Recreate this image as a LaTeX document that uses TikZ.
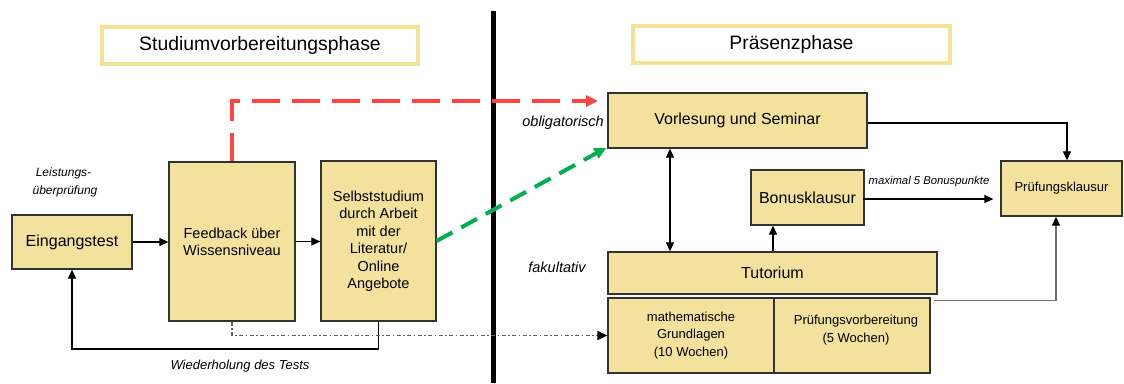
\documentclass[tikz,border=0pt]{standalone}
\usepackage{fontspec}
\setmainfont{Liberation Sans}
\usetikzlibrary{arrows.meta,calc}

\definecolor{boxfill}{RGB}{243,225,158}
\definecolor{boxline}{RGB}{51,51,51}
\definecolor{titleline}{RGB}{246,226,150}
\definecolor{redpath}{RGB}{255,68,68}
\definecolor{greenpath}{RGB}{0,176,80}
\definecolor{greypath}{RGB}{110,110,110}
\definecolor{dashgrey}{RGB}{95,95,95}

\tikzset{
  box/.style={draw=boxline, line width=1.3pt, fill=boxfill, rectangle, inner sep=2pt, align=center},
  titlebox/.style={draw=titleline, line width=3.6pt, fill=white, rectangle, inner sep=0pt, font=\fontsize{19.4}{22}\selectfont},
  note/.style={font=\itshape\fontsize{14.5}{17}\selectfont, inner sep=0pt},
  arr/.style={draw=black, line width=1.2pt, -{Triangle[length=9pt,width=8pt,color=black]}},
  darr/.style={draw=black, line width=1.2pt, {Triangle[length=9pt,width=8pt]}-{Triangle[length=9pt,width=8pt]}},
  redflow/.style={draw=redpath, line width=4pt, dash pattern=on 28pt off 12pt, -{Triangle[length=12pt,width=11pt,fill=redpath]}},
  greenflow/.style={draw=greenpath, line width=4pt, dash pattern=on 18pt off 10pt, -{Triangle[length=12pt,width=11pt,fill=greenpath]}},
  dashdotflow/.style={draw=dashgrey, line width=1.6pt, dash pattern=on 4pt off 2.5pt on 1.5pt off 2.5pt, -{Triangle[length=10pt,width=9pt,color=black]}},
}

\begin{document}
\begin{tikzpicture}[x=1pt,y=-1pt]
  \useasboundingbox (0,0) rectangle (1124,383);

  % phase divider
  \coordinate (divtop) at (493,11);
  \coordinate (divbot) at (493,383);
  \draw[line width=5pt] (divtop) -- (divbot);

  % phase titles
  \node[titlebox, minimum width=316pt, minimum height=37pt] (t1) at (260,45.5) {Studiumvorbereitungsphase};
  \node[titlebox, minimum width=317pt, minimum height=37pt] (t2) at (791.5,44.5) {Präsenzphase};

  % preparation phase
  \node[box, minimum width=120pt, minimum height=54pt, font=\fontsize{16}{19}\selectfont] (ein) at (72,242) {Eingangstest};
  \node[box, minimum width=126pt, minimum height=159pt, font=\fontsize{14.5}{16.7}\selectfont] (fb) at (232,241.5) {Feedback über\\Wissensniveau};
  \node[box, minimum width=115pt, minimum height=160pt, font=\fontsize{14.5}{17.5}\selectfont] (selbst) at (378.5,241) {Selbststudium\\durch Arbeit\\mit der\\Literatur/\\Online\\Angebote};

  \node[note, font=\itshape\fontsize{12}{14}\selectfont] (lp1) at (63.5,173) {Leistungs-};
  \node[note, font=\itshape\fontsize{12}{14}\selectfont] (lp2) at (65,191) {überprüfung};
  \node[note, font=\itshape\fontsize{13}{15}\selectfont] (wdh) at (240,366) {Wiederholung des Tests};

  % presence phase
  \node[box, minimum width=259pt, minimum height=55pt, font=\fontsize{16}{19}\selectfont] (vs) at (737.5,120.5) {Vorlesung und Seminar};
  \node[box, minimum width=113pt, minimum height=55pt, font=\fontsize{16}{19}\selectfont] (bonus) at (807.5,197.5) {Bonusklausur};
  \node[box, minimum width=329pt, minimum height=42pt, font=\fontsize{16}{19}\selectfont] (tut) at (772.5,273) {Tutorium};
  \node[box, minimum width=166pt, minimum height=75pt, font=\fontsize{13}{17.7}\selectfont] (math) at (691,335.5) {mathematische\\Grundlagen\\(10 Wochen)};
  \node[box, minimum width=156pt, minimum height=75pt] (pv) at (852,335.5) {};
  \node[inner sep=0pt, align=center, font=\fontsize{13}{18}\selectfont] (pvtext) at (856,330) {Prüfungsvorbereitung\\(5 Wochen)};
  \node[box, minimum width=121pt, minimum height=55pt, font=\fontsize{13}{16}\selectfont] (pk) at (1061.5,188.5) {Prüfungsklausur};

  \node[note, anchor=east] (obl) at (604,123) {obligatorisch};
  \node[note] (fak) at (557,267) {fakultativ};

  % helper points for bends and offsets
  \coordinate (wdhline) at (0,349);
  \coordinate (redcorner) at (598,101);
  \coordinate (vtx) at (670,0);
  \coordinate (tbx) at (773,0);
  \coordinate (pktop) at (1067,0);
  \coordinate (pkbot) at (1056,0);

  % preparation phase connectors
  \draw[arr] (ein.east) -- (ein.east -| fb.west);
  \draw[arr] (fb.east) -- (fb.east -| selbst.west);
  \draw[arr] (selbst.south) -- (selbst.south |- wdhline) -| (ein.south);
  \draw[dashdotflow] (fb.south) |- (math.west);
  \draw[redflow] (fb.north) |- (redcorner);
  \draw[greenflow] (selbst.east) -- ([xshift=-1pt,yshift=1pt]vs.south west);

  % presence phase connectors
  \draw[darr] (vs.south -| vtx) -- (tut.north -| vtx);
  \draw[arr] (tut.north -| tbx) -- (bonus.south -| tbx);
  \draw[arr] ([yshift=-2.5pt]vs.east) -| (pk.north -| pktop);
  \draw[arr] ([xshift=-2pt,yshift=-1.5pt]bonus.east) -- ([xshift=-7pt,yshift=-1.5pt]bonus.east -| pk.west);
  \node[inner sep=0pt, font=\itshape\fontsize{11.3}{13}\selectfont] (bonuspkt) at (929,182) {maximal 5 Bonuspunkte};
  \draw[arr, draw=greypath, line width=1.6pt] ([xshift=3pt,yshift=-3pt]pv.north east) -| (pk.south -| pkbot);
\end{tikzpicture}
\end{document}
